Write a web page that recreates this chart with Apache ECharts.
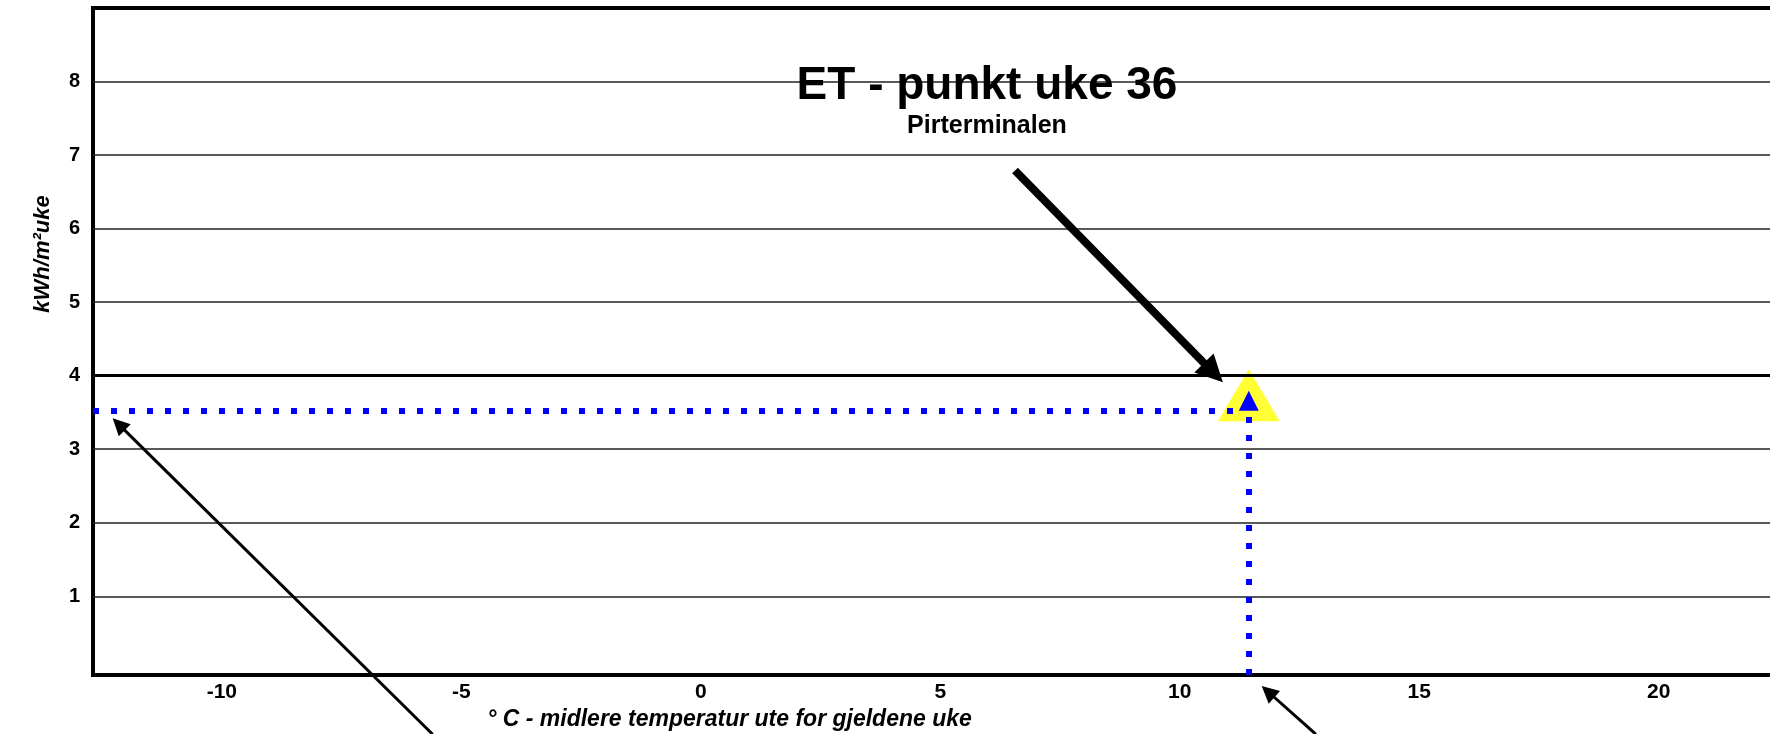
<!DOCTYPE html>
<html>
<head>
<meta charset="utf-8">
<title>ET - punkt uke 36</title>
<script src="https://cdn.jsdelivr.net/npm/echarts@6/dist/echarts.min.js"></script>
<style>
    html, body { margin: 0; padding: 0; background: #fff; }
    #et_punkt { width: 1770px; height: 734px; }
</style>
</head>
<body>
<div id="et_punkt"></div>
<script>
// ukens ET-punkt: [temperatur °C, kWh/m² uke]
const weekPoint = [11.44, 3.53];
const xTicks = [-10, -5, 0, 5, 10, 15, 20];
const yTicks = [1, 2, 3, 4, 5, 6, 7, 8];
const xRange = [-12.69, 22.49];
const yRange = [-0.07, 9];
const targetLevel = 4;

// blå avlesningslinjer (dataverdier)
const readY = [[xRange[0], 3.53], [11.19, 3.53]];
const readX = [[11.44, yRange[0]], [11.44, 3.66]];

// piler: [fraX, fraY, tilX, tilY]
const arrows = [
    [6.56, 6.79, 10.90, 3.91],
    [-5.60, -0.875, -12.28, 3.42],
    [12.84, -0.875, 11.71, -0.22]
];
const arrowWidths = [8, 3, 3];
const arrowHeads = [27, 17, 17];

const font = 'Liberation Sans, Arial, sans-serif';

let chart = echarts.init(document.getElementById('et_punkt'));

chart.setOption({
    animation: false,
    backgroundColor: '#fff',
    title: {
        text: 'ET - punkt uke 36',
        subtext: 'Pirterminalen',
        left: 982,
        top: 58,
        textAlign: 'center',
        itemGap: 5,
        textStyle: { fontFamily: font, fontSize: 46, fontWeight: 'bold', color: '#000' },
        subtextStyle: { fontFamily: font, fontSize: 25, fontWeight: 'bold', color: '#000' }
    },
    grid: {
        left: 93,
        right: -8,
        top: 8,
        bottom: 59,
        outerBoundsMode: 'none',
        show: true,
        borderColor: '#000',
        borderWidth: 4,
        backgroundColor: '#fff'
    },
    xAxis: {
        type: 'value',
        min: xRange[0],
        max: xRange[1],
        name: '° C - midlere temperatur ute for gjeldene uke',
        nameLocation: 'middle',
        nameGap: 32,
        nameTextStyle: {
            fontFamily: font, fontSize: 23, fontStyle: 'italic', fontWeight: 'bold', color: '#000',
            padding: [0, 412, 0, 0]
        },
        axisLine: { show: false },
        axisTick: { show: false, customValues: xTicks },
        axisLabel: {
            customValues: xTicks,
            margin: 7,
            fontFamily: font, fontSize: 21, fontWeight: 'bold', color: '#000'
        },
        splitLine: { show: false }
    },
    yAxis: {
        type: 'value',
        min: yRange[0],
        max: yRange[1],
        name: 'kWh/m²uke',
        nameLocation: 'middle',
        nameRotate: 90,
        nameGap: 39,
        nameTextStyle: {
            fontFamily: font, fontSize: 22, fontStyle: 'italic', fontWeight: 'bold', color: '#000',
            padding: [0, 0, 0, 175]
        },
        axisLine: { show: false },
        axisTick: { show: false, customValues: yTicks },
        axisLabel: {
            customValues: yTicks,
            margin: 13,
            fontFamily: font, fontSize: 20, fontWeight: 'bold', color: '#000'
        },
        splitLine: { show: true, lineStyle: { color: '#222', width: 1.5 } }
    },
    series: [
        {
            name: 'nivå',
            type: 'line',
            data: [],
            z: 1,
            markLine: {
                silent: true,
                symbol: ['none', 'none'],
                label: { show: false },
                lineStyle: { color: '#000', width: 3, type: 'solid' },
                data: [{ yAxis: targetLevel }]
            }
        },
        {
            name: 'uke 36',
            type: 'scatter',
            data: [weekPoint],
            z: 2,
            symbol: 'triangle',
            symbolSize: [62, 52],
            symbolOffset: [0, -15],
            itemStyle: { color: '#ffff00' }
        },
        {
            name: 'avlesning',
            type: 'line',
            data: [],
            z: 3,
            markLine: {
                silent: true,
                symbol: ['none', 'none'],
                label: { show: false },
                lineStyle: { color: '#0000ff', width: 6, type: [6, 12], cap: 'butt' },
                data: [
                    [{ coord: readY[0] }, { coord: readY[1] }],
                    [{ coord: readX[0] }, { coord: readX[1], symbol: 'triangle', symbolSize: 20 }]
                ]
            }
        },
        {
            name: 'piler',
            type: 'custom',
            z: 4,
            silent: true,
            data: arrows,
            encode: { x: [0, 2], y: [1, 3] },
            renderItem: function (params, api) {
                let i = params.dataIndex;
                let a = api.coord([api.value(0), api.value(1)]);
                let b = api.coord([api.value(2), api.value(3)]);
                let dx = b[0] - a[0], dy = b[1] - a[1];
                let len = Math.sqrt(dx * dx + dy * dy);
                let ux = dx / len, uy = dy / len;
                let h = arrowHeads[i];
                let half = h * 0.5;
                let base = [b[0] - ux * h, b[1] - uy * h];
                return {
                    type: 'group',
                    children: [
                        {
                            type: 'line',
                            shape: { x1: a[0], y1: a[1], x2: base[0] + ux * 2, y2: base[1] + uy * 2 },
                            style: { stroke: '#000', lineWidth: arrowWidths[i] }
                        },
                        {
                            type: 'polygon',
                            shape: { points: [b, [base[0] - uy * half, base[1] + ux * half], [base[0] + uy * half, base[1] - ux * half]] },
                            style: { fill: '#000' }
                        }
                    ]
                };
            }
        }
    ]
});

window.addEventListener('resize', function () {
    chart.resize();
});
</script>
</body>
</html>
